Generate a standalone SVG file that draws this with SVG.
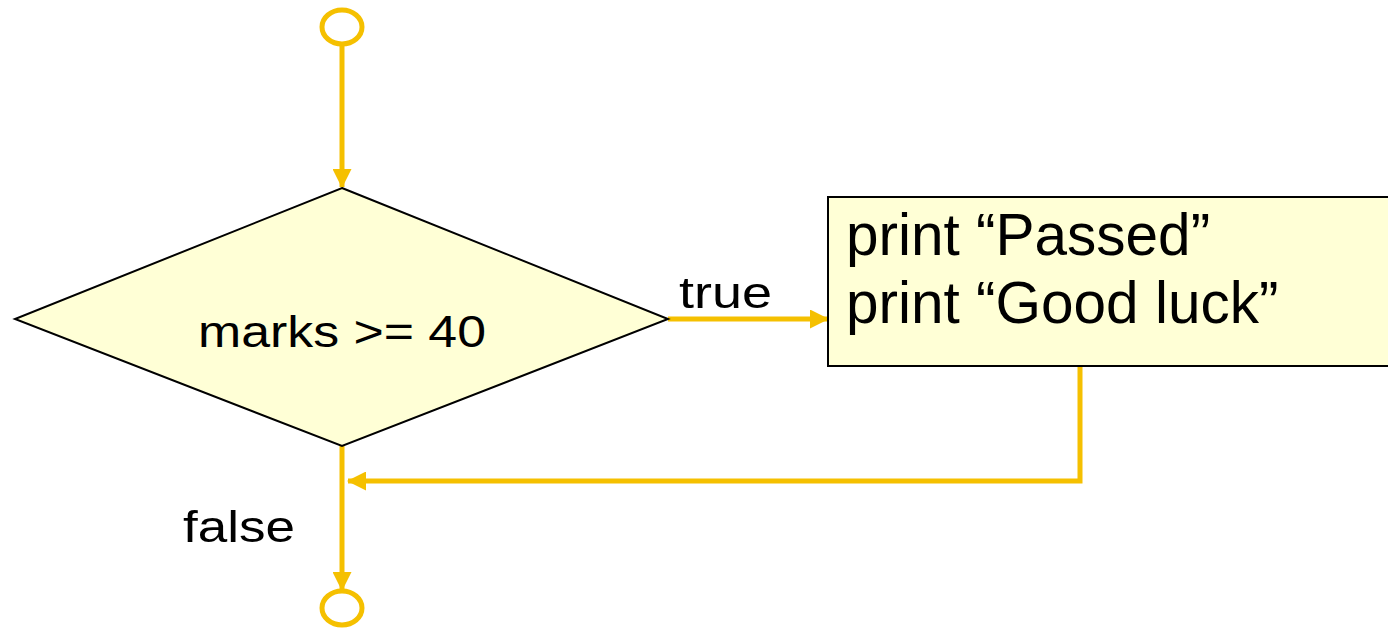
<svg xmlns="http://www.w3.org/2000/svg" width="1388" height="630" viewBox="0 0 1388 630">
<style>
.c{fill:none;stroke:#F5C000;stroke-width:5}
.t{font-family:"Liberation Sans",Arial,sans-serif;fill:#000}
.n{fill:#FFFFD6;stroke:#000;stroke-width:2}
</style>
<defs>
<marker id="ah" markerWidth="19" markerHeight="19" refX="18" refY="9.5" orient="auto" markerUnits="userSpaceOnUse" viewBox="0 0 19 19">
<path d="M0,0 L19,9.5 L0,19 Z" fill="#F5C000"/>
</marker>
</defs>
<g id="connectors">
<line class="c" x1="342" y1="45" x2="342" y2="187" marker-end="url(#ah)"/>
<line class="c" x1="668" y1="319" x2="828" y2="319" marker-end="url(#ah)"/>
<polyline class="c" points="1080,366 1080,481 348,481" marker-end="url(#ah)"/>
<line class="c" x1="342" y1="446" x2="342" y2="590" marker-end="url(#ah)"/>
<text class="t" x="679" y="308" font-size="45" textLength="93" lengthAdjust="spacingAndGlyphs">true</text>
<text class="t" x="183" y="542" font-size="45" textLength="112" lengthAdjust="spacingAndGlyphs">false</text>
</g>
<g id="start">
<ellipse cx="342" cy="27" rx="20" ry="17" class="c"/>
</g>
<g id="decision">
<polygon class="n" points="342,188 668,319 342,446 15,319"/>
<text class="t" x="342" y="347" font-size="44" text-anchor="middle" textLength="288" lengthAdjust="spacingAndGlyphs">marks &gt;= 40</text>
</g>
<g id="action">
<rect class="n" x="828" y="197" width="570" height="169"/>
<text class="t" x="846" y="255" font-size="58.5">print “Passed”</text>
<text class="t" x="846" y="323" font-size="58.5">print “Good luck”</text>
</g>
<g id="end">
<ellipse cx="342" cy="608" rx="20" ry="17" class="c"/>
</g>
</svg>
